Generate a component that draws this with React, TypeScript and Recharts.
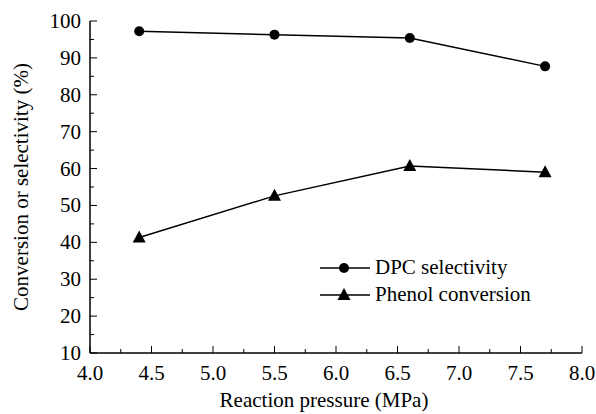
import { LineChart, Line, XAxis, YAxis, Legend } from "recharts";

// pressure (MPa) and results
const presion = [4.4, 5.5, 6.6, 7.7];
const selectividadDPC = [97.2, 96.3, 95.4, 87.7];
const conversionFenol = [41.3, 52.6, 60.7, 59.0];

const ticksX = [4.0, 4.25, 4.5, 4.75, 5.0, 5.25, 5.5, 5.75, 6.0, 6.25, 6.5, 6.75, 7.0, 7.25, 7.5, 7.75, 8.0];
const ticksY = [10, 15, 20, 25, 30, 35, 40, 45, 50, 55, 60, 65, 70, 75, 80, 85, 90, 95, 100];

const datos = presion.map((p, i) => ({
  p,
  dpc: selectividadDPC[i],
  fenol: conversionFenol[i],
}));

const FUENTE = "'Times New Roman', 'Liberation Serif', 'DejaVu Serif', serif";

const esMayorX = (v: number) => Math.abs(v * 2 - Math.round(v * 2)) < 1e-6;
const esMayorY = (v: number) => v % 10 === 0;

function TickAbajo(props: any) {
  const { x, y, payload } = props;
  const mayor = esMayorX(payload.value);
  return (
    <g>
      <line x1={x} y1={y} x2={x} y2={y - (mayor ? 7 : 4)} stroke="#000" strokeWidth={1} />
      {mayor && (
        <text x={x} y={y + 27} textAnchor="middle" style={{ fontSize: 21, fontFamily: FUENTE }} fill="#000">
          {payload.value.toFixed(1)}
        </text>
      )}
    </g>
  );
}

function TickArriba(props: any) {
  const { x, y, payload } = props;
  const mayor = esMayorX(payload.value);
  return <line x1={x} y1={y} x2={x} y2={y + (mayor ? 7 : 4)} stroke="#000" strokeWidth={1} />;
}

function TickIzq(props: any) {
  const { x, y, payload } = props;
  const mayor = esMayorY(payload.value);
  return (
    <g>
      <line x1={x} y1={y} x2={x + (mayor ? 7 : 4)} y2={y} stroke="#000" strokeWidth={1} />
      {mayor && (
        <text x={x - 9} y={y + 7} textAnchor="end" style={{ fontSize: 21, fontFamily: FUENTE }} fill="#000">
          {payload.value}
        </text>
      )}
    </g>
  );
}

function TickDer(props: any) {
  const { x, y, payload } = props;
  const mayor = esMayorY(payload.value);
  return <line x1={x} y1={y} x2={x - (mayor ? 7 : 4)} y2={y} stroke="#000" strokeWidth={1} />;
}

function Triangulo(props: any) {
  const { cx, cy } = props;
  if (cx == null || cy == null) return null;
  return <path d={`M${cx},${cy - 7} L${cx + 6.5},${cy + 5} L${cx - 6.5},${cy + 5} Z`} fill="#000" />;
}

function Circulo(props: any) {
  const { cx, cy } = props;
  if (cx == null || cy == null) return null;
  return <circle cx={cx} cy={cy} r={5} fill="#000" />;
}

function Leyenda() {
  const filas = [
    { nombre: "DPC selectivity", forma: "circulo" },
    { nombre: "Phenol conversion", forma: "triangulo" },
  ];
  return (
    <div style={{ fontFamily: FUENTE, fontSize: 21, color: "#000", lineHeight: "27px" }}>
      {filas.map((f) => (
        <div key={f.nombre} style={{ display: "flex", alignItems: "center", height: 27 }}>
          <svg width={52} height={20} style={{ marginRight: 3 }}>
            <line x1={0} y1={10} x2={50} y2={10} stroke="#000" strokeWidth={1.5} />
            {f.forma === "circulo" ? (
              <circle cx={24} cy={10} r={5} fill="#000" />
            ) : (
              <path d="M24,3 L30.5,15 L17.5,15 Z" fill="#000" />
            )}
          </svg>
          <span>{f.nombre}</span>
        </div>
      ))}
    </div>
  );
}

export default function App() {
  return (
    <div style={{ position: "absolute", left: 0, top: 0, background: "#fff", fontFamily: FUENTE }}>
      <LineChart
        width={596}
        height={414}
        data={datos}
        margin={{ top: 21, right: 14, left: 0, bottom: 21 }}
      >
        <XAxis
          dataKey="p"
          type="number"
          domain={[4, 8]}
          ticks={ticksX}
          interval={0}
          tick={<TickAbajo />}
          tickLine={false}
          tickSize={0}
          tickMargin={0}
          height={40}
          axisLine={{ stroke: "#000", strokeWidth: 1.5 }}
          label={{
            value: "Reaction pressure (MPa)",
            position: "insideBottom",
            offset: -14,
            dx: -12,
            style: { fontSize: 21, fontFamily: FUENTE, fill: "#000" },
          }}
        />
        <XAxis
          xAxisId="arriba"
          orientation="top"
          dataKey="p"
          type="number"
          domain={[4, 8]}
          ticks={ticksX}
          interval={0}
          tick={<TickArriba />}
          tickLine={false}
          tickSize={0}
          tickMargin={0}
          height={0}
          axisLine={{ stroke: "#000", strokeWidth: 1.5 }}
        />
        <YAxis
          type="number"
          domain={[10, 100]}
          ticks={ticksY}
          interval={0}
          tick={<TickIzq />}
          tickLine={false}
          tickSize={0}
          tickMargin={0}
          width={90}
          axisLine={{ stroke: "#000", strokeWidth: 1.5 }}
          label={{
            value: "Conversion or selectivity (%)",
            angle: -90,
            position: "insideLeft",
            offset: 21,
            style: { textAnchor: "middle", fontSize: 21, fontFamily: FUENTE, fill: "#000" },
          }}
        />
        <YAxis
          yAxisId="derecha"
          orientation="right"
          type="number"
          domain={[10, 100]}
          ticks={ticksY}
          interval={0}
          tick={<TickDer />}
          tickLine={false}
          tickSize={0}
          tickMargin={0}
          width={0}
          axisLine={{ stroke: "#000", strokeWidth: 1.5 }}
        />
        <Legend
          layout="vertical"
          verticalAlign="middle"
          align="center"
          content={<Leyenda />}
          wrapperStyle={{ left: 320, top: 254, width: 260, transform: "none" }}
        />
        <Line
          dataKey="dpc"
          name="DPC selectivity"
          stroke="#000"
          strokeWidth={1.5}
          dot={<Circulo />}
          activeDot={false}
          isAnimationActive={false}
        />
        <Line
          dataKey="fenol"
          name="Phenol conversion"
          stroke="#000"
          strokeWidth={1.5}
          dot={<Triangulo />}
          activeDot={false}
          isAnimationActive={false}
        />
      </LineChart>
    </div>
  );
}
